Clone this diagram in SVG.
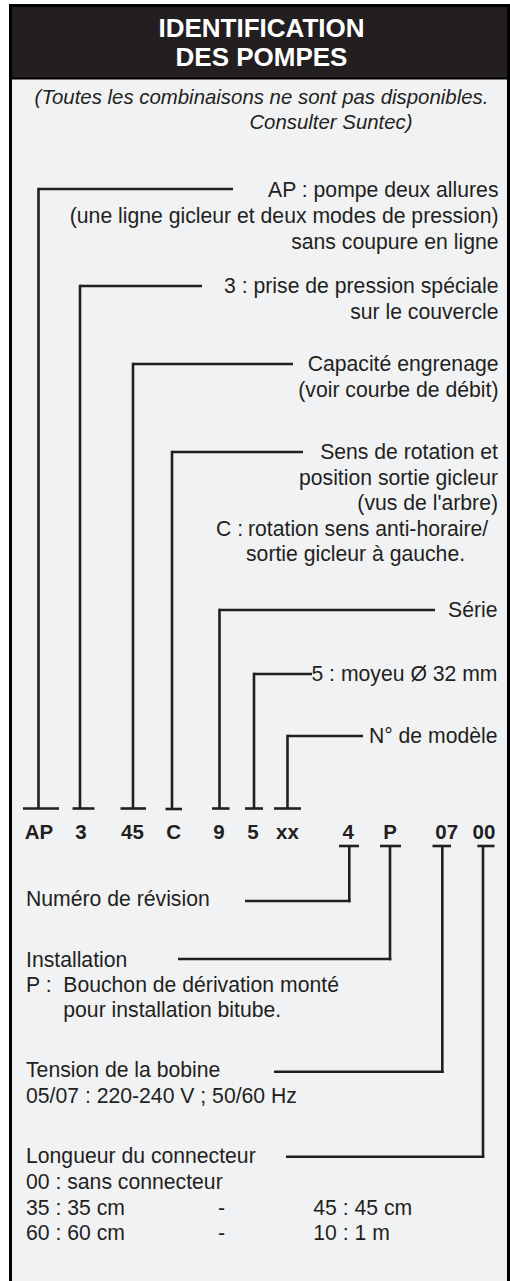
<svg xmlns="http://www.w3.org/2000/svg" width="510" height="1281" viewBox="0 0 510 1281">
<style>
.t{font-family:"Liberation Sans",Arial,sans-serif;font-size:21.2px;fill:#231f20}
.r{text-anchor:end}
.b{font-weight:bold;text-anchor:middle;font-size:20.5px}
.h{font-family:"Liberation Sans",Arial,sans-serif;font-size:26px;font-weight:bold;fill:#fff;text-anchor:middle}
.s{font-style:italic;text-anchor:middle;font-size:20.4px}
.c line{stroke:#231f20;stroke-width:2.6;fill:none}
</style>
<rect x="10.5" y="5.5" width="498" height="1300" fill="#f1f2f4" stroke="#000" stroke-width="3"/>
<g id="header">
<rect x="12" y="7" width="495" height="71" fill="#231f20"/>
<line x1="12" y1="78.5" x2="507" y2="78.5" stroke="#000" stroke-width="2"/>
<text class="h" x="261.5" y="37">IDENTIFICATION</text>
<text class="h" x="261.5" y="66">DES POMPES</text>
</g>
<g id="note">
<text class="t s" x="261.5" y="104">(Toutes les combinaisons ne sont pas disponibles.</text>
<text class="t s" x="331" y="129">Consulter Suntec)</text>
</g>
<g class="c" id="connectors">
<line x1="38.5" y1="189" x2="233" y2="189"/><line x1="38.5" y1="187.7" x2="38.5" y2="808"/><line x1="23" y1="808.5" x2="59" y2="808.5"/>
<line x1="80" y1="286" x2="202" y2="286"/><line x1="80" y1="284.7" x2="80" y2="808"/><line x1="72.5" y1="808.5" x2="94.5" y2="808.5"/>
<line x1="133" y1="364" x2="293" y2="364"/><line x1="133" y1="362.7" x2="133" y2="808"/><line x1="120.5" y1="808.5" x2="146" y2="808.5"/>
<line x1="172" y1="452" x2="303" y2="452"/><line x1="172" y1="450.7" x2="172" y2="808"/><line x1="165.5" y1="809" x2="182" y2="809"/>
<line x1="219.5" y1="610" x2="435" y2="610"/><line x1="219.5" y1="608.7" x2="219.5" y2="808"/><line x1="212" y1="808.5" x2="229.5" y2="808.5"/>
<line x1="254" y1="674" x2="312" y2="674"/><line x1="254" y1="672.7" x2="254" y2="808"/><line x1="245" y1="808.5" x2="263" y2="808.5"/>
<line x1="287.5" y1="736" x2="363" y2="736"/><line x1="287.5" y1="734.7" x2="287.5" y2="808"/><line x1="274" y1="808.5" x2="301" y2="808.5"/>
<line x1="339" y1="846" x2="359" y2="846"/><line x1="349.3" y1="846" x2="349.3" y2="902.3"/><line x1="245" y1="901" x2="350.6" y2="901"/>
<line x1="380" y1="846" x2="401" y2="846"/><line x1="390" y1="846" x2="390" y2="960.3"/><line x1="178" y1="959" x2="391.3" y2="959"/>
<line x1="432.5" y1="846" x2="451" y2="846"/><line x1="442.3" y1="846" x2="442.3" y2="1073"/><line x1="274" y1="1071.7" x2="443.6" y2="1071.7"/>
<line x1="477.3" y1="846" x2="494.5" y2="846"/><line x1="483" y1="846" x2="483" y2="1158"/><line x1="286" y1="1156.7" x2="484.3" y2="1156.7"/>
</g>
<g id="n-AP"><text class="t r" x="498.5" y="197">AP : pompe deux allures</text><text class="t r" x="498.5" y="223">(une ligne gicleur et deux modes de pression)</text><text class="t r" x="498.5" y="248.5">sans coupure en ligne</text></g>
<g id="n-3"><text class="t r" x="498.5" y="293">3 : prise de pression spéciale</text><text class="t r" x="498.5" y="318.5">sur le couvercle</text></g>
<g id="n-45"><text class="t r" x="498.5" y="371">Capacité engrenage</text><text class="t r" x="498.5" y="397">(voir courbe de débit)</text></g>
<g id="n-C"><text class="t r" x="498" y="459">Sens de rotation et</text><text class="t r" x="498" y="484.5">position sortie gicleur</text><text class="t r" x="498" y="510">(vus de l'arbre)</text><text class="t" x="216" y="535.5">C :</text><text class="t" x="248" y="535.5">rotation sens anti-horaire/</text><text class="t" x="246" y="561">sortie gicleur à gauche.</text></g>
<g id="n-9"><text class="t r" x="497.5" y="617">Série</text></g>
<g id="n-5"><text class="t r" x="497.5" y="681">5 : moyeu Ø 32 mm</text></g>
<g id="n-xx"><text class="t r" x="497.5" y="743">N° de modèle</text></g>
<g id="code">
<text class="t b" x="39" y="838.5">AP</text><text class="t b" x="81" y="838.5">3</text><text class="t b" x="132.5" y="838.5">45</text><text class="t b" x="173.7" y="838.5">C</text><text class="t b" x="219" y="838.5">9</text><text class="t b" x="253" y="838.5">5</text><text class="t b" x="287.5" y="838.5">xx</text><text class="t b" x="348.3" y="838.5">4</text><text class="t b" x="390" y="838.5">P</text><text class="t b" x="446.7" y="838.5">07</text><text class="t b" x="484" y="838.5">00</text>
</g>
<g id="n-4"><text class="t" x="26" y="905.5">Numéro de révision</text></g>
<g id="n-P"><text class="t" x="26" y="966.5">Installation</text><text class="t" x="26" y="991.5">P :</text><text class="t" x="63.3" y="991.5">Bouchon de dérivation monté</text><text class="t" x="63.3" y="1016.5">pour installation bitube.</text></g>
<g id="n-07"><text class="t" x="26" y="1077">Tension de la bobine</text><text class="t" x="26" y="1103">05/07 : 220-240 V ; 50/60 Hz</text></g>
<g id="n-00"><text class="t" x="26" y="1163">Longueur du connecteur</text><text class="t" x="26" y="1189">00 : sans connecteur</text><text class="t" x="26" y="1215">35 : 35 cm</text><text class="t" x="218" y="1215">-</text><text class="t" x="313.3" y="1215">45 : 45 cm</text><text class="t" x="26" y="1240">60 : 60 cm</text><text class="t" x="218" y="1240">-</text><text class="t" x="313.3" y="1240">10 : 1 m</text></g>
</svg>
